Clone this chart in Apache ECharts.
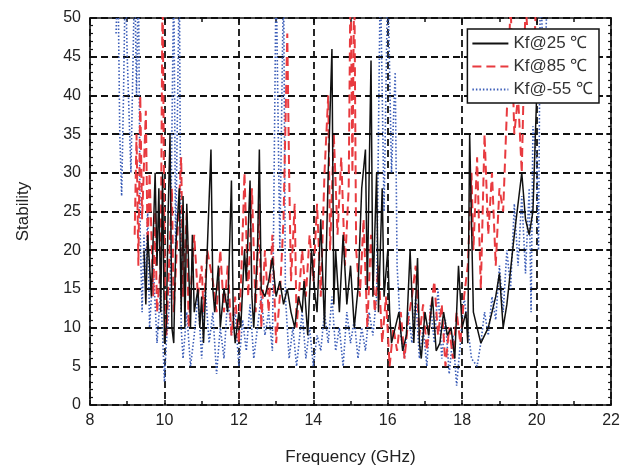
<!DOCTYPE html>
<html><head><meta charset="utf-8">
<script src="https://cdn.jsdelivr.net/npm/echarts@6/dist/echarts.min.js"></script>
<style>html,body{margin:0;padding:0;background:#fff}#c{width:623px;height:471px}</style>
</head><body><div id="c"></div>
<script>
var xTicks = [8, 10, 12, 14, 16, 18, 20, 22];
var yTicks = [0, 5, 10, 15, 20, 25, 30, 35, 40, 45, 50];
var seriesNames = ['Kf@25 \u2103', 'Kf@85 \u2103', 'Kf@-55 \u2103'];

var kf25 = [[9.45,20],[9.5,13],[9.55,22],[9.65,14],[9.75,30],[9.8,18],[9.85,28],[9.9,12],[9.95,30],[10.0,8],[10.05,10],[10.1,25],[10.15,35],[10.2,10],[10.25,8],[10.3,20],[10.4,28],[10.45,12],[10.5,27],[10.55,10],[10.6,26],[10.7,10],[10.75,22],[10.8,12],[10.9,15],[10.95,10],[11.0,14],[11.05,8],[11.15,20],[11.25,33],[11.3,15],[11.35,12],[11.45,18],[11.5,10],[11.6,15],[11.7,12],[11.8,29],[11.85,11],[11.9,8],[12.0,12],[12.05,10],[12.15,20],[12.2,16],[12.3,29],[12.35,14],[12.4,10],[12.5,20],[12.55,33],[12.6,15],[12.7,14],[12.8,16],[12.9,19],[13.0,14],[13.1,16],[13.2,13],[13.3,15],[13.4,12],[13.5,10],[13.6,14],[13.7,12],[13.75,16],[13.85,9],[13.95,20],[14.05,14],[14.1,12],[14.2,24],[14.3,10],[14.4,30],[14.5,46],[14.55,13],[14.6,20],[14.7,12],[14.8,22],[14.9,13],[15.0,18],[15.1,10],[15.2,15],[15.3,28],[15.4,33],[15.45,15],[15.55,44.5],[15.6,14],[15.7,30],[15.75,12],[15.85,28],[15.9,14],[16.0,20],[16.05,12],[16.1,8],[16.2,10],[16.3,12],[16.4,7],[16.5,9],[16.6,20],[16.7,8],[16.8,19],[16.85,8],[16.9,6],[17.0,12],[17.1,9],[17.2,14],[17.3,7],[17.4,8],[17.5,12],[17.6,9],[17.7,10],[17.8,6],[17.9,18],[18.0,10],[18.1,12],[18.15,8],[18.2,35],[18.3,12],[18.5,8],[18.7,10],[18.8,12],[18.9,14],[19.0,17],[19.1,10],[19.2,13],[19.4,22],[19.6,30],[19.7,24],[19.8,22],[19.9,25],[20.0,40],[20.1,42]];

var kf85 = [[9.2,22],[9.25,35],[9.3,18],[9.35,40],[9.4,24],[9.5,38],[9.55,20],[9.6,30],[9.7,14],[9.75,25],[9.8,12],[9.9,18],[9.95,55],[10.0,20],[10.05,9],[10.1,15],[10.2,28],[10.25,12],[10.35,22],[10.45,32],[10.5,14],[10.6,25],[10.65,10],[10.8,22],[10.9,14],[11.0,18],[11.05,12],[11.15,20],[11.3,16],[11.4,12],[11.5,20],[11.6,12],[11.7,18],[11.8,9],[11.9,14],[12.0,8],[12.1,22],[12.15,30],[12.25,14],[12.35,28],[12.45,12],[12.55,26],[12.6,10],[12.7,20],[12.8,12],[12.9,22],[13.0,8],[13.1,14],[13.2,24],[13.3,48],[13.35,30],[13.4,16],[13.5,26],[13.55,10],[13.7,20],[13.8,14],[13.9,22],[14.0,16],[14.1,26],[14.2,14],[14.3,30],[14.4,40],[14.45,20],[14.55,35],[14.65,22],[14.75,32],[14.85,18],[14.95,28],[15.0,56],[15.05,30],[15.1,56],[15.15,20],[15.25,14],[15.35,24],[15.45,10],[15.55,22],[15.65,12],[15.75,18],[15.85,8],[15.95,14],[16.05,5],[16.15,10],[16.25,7],[16.35,12],[16.45,6],[16.55,11],[16.65,14],[16.75,18],[16.85,9],[16.95,13],[17.05,7],[17.15,12],[17.25,16],[17.35,9],[17.45,13],[17.55,5],[17.65,10],[17.75,6],[17.85,12],[17.95,8],[18.05,14],[18.15,18],[18.25,30],[18.3,20],[18.4,32],[18.5,15],[18.6,35],[18.7,22],[18.8,30],[18.9,18],[19.0,28],[19.1,25],[19.2,38],[19.3,52],[19.4,35],[19.5,40],[19.6,30],[19.7,52],[19.8,45],[19.9,40],[20.0,55]];

var kfm55 = [[8.7,48],[8.75,56],[8.8,35],[8.85,27],[8.9,40],[8.95,56],[9.0,45],[9.1,30],[9.2,56],[9.25,40],[9.3,56],[9.35,22],[9.4,12],[9.45,22],[9.5,16],[9.55,25],[9.6,10],[9.7,18],[9.8,8],[9.9,15],[10.0,3],[10.05,8],[10.15,14],[10.25,56],[10.3,20],[10.4,56],[10.45,10],[10.5,6],[10.6,12],[10.7,5],[10.8,9],[10.9,14],[11.0,6],[11.1,15],[11.2,8],[11.3,12],[11.4,4],[11.5,10],[11.6,6],[11.7,14],[11.8,9],[11.9,12],[12.0,5],[12.1,11],[12.2,7],[12.3,13],[12.4,6],[12.5,10],[12.6,14],[12.7,9],[12.8,12],[12.9,7],[13.0,56],[13.1,20],[13.2,56],[13.25,14],[13.35,6],[13.45,10],[13.55,5],[13.7,12],[13.8,6],[13.9,10],[14.0,5],[14.1,9],[14.2,7],[14.3,12],[14.4,8],[14.5,14],[14.6,7],[14.7,10],[14.8,5],[14.9,12],[15.0,8],[15.1,11],[15.2,6],[15.3,10],[15.4,7],[15.5,12],[15.6,9],[15.7,14],[15.8,56],[15.9,25],[16.0,56],[16.1,30],[16.2,43],[16.25,18],[16.35,9],[16.45,6],[16.55,12],[16.65,8],[16.75,14],[16.85,6],[16.95,10],[17.05,5],[17.15,13],[17.25,8],[17.35,15],[17.45,6],[17.55,11],[17.65,4],[17.75,9],[17.85,2.5],[17.95,8],[18.05,14],[18.15,10],[18.25,6],[18.4,5],[18.5,8],[18.6,12],[18.7,9],[18.8,14],[18.9,11],[19.0,18],[19.1,12],[19.2,20],[19.3,15],[19.4,26],[19.5,18],[19.6,27],[19.7,17],[19.8,28],[19.85,12],[19.9,36],[20.0,32],[20.05,20],[20.1,56],[20.2,40],[20.3,56]];

var chart = echarts.init(document.getElementById('c'), null, {renderer: 'canvas'});
var txt = {fontFamily: 'Liberation Sans, Arial, sans-serif', color: '#222'};
var gridLine = {show: true, lineStyle: {color: '#111', type: [7, 4], width: 1.8}};
var axisLine = {show: true, onZero: false, lineStyle: {color: '#111', width: 1.6}};
chart.setOption({
  animation: false,
  backgroundColor: '#fff',
  grid: {left: 90, right: 11, top: 18, bottom: 66, containLabel: false},
  legend: {
    z: 20, zlevel: 0,
    right: 24, top: 29, orient: 'vertical', itemGap: 6, itemWidth: 36, itemHeight: 14,
    borderColor: '#111', borderWidth: 1.5, padding: [6, 6, 5, 4], backgroundColor: '#fff',
    itemStyle: {opacity: 0},
    textStyle: {fontFamily: 'Liberation Sans, Arial, sans-serif', fontSize: 17, color: '#333'},
    data: seriesNames
  },
  xAxis: [{
    type: 'value', min: xTicks[0], max: xTicks[xTicks.length - 1], interval: 2,
    axisLine: axisLine,
    axisTick: {show: true, inside: true, length: 5, lineStyle: {color: '#111', width: 1.5}},
    minorTick: {show: true, splitNumber: 2, length: 4, lineStyle: {color: '#111', width: 1.5}},
    axisLabel: Object.assign({fontSize: 16, margin: 8}, txt),
    splitLine: gridLine,
    name: 'Frequency (GHz)', nameLocation: 'middle', nameGap: 44,
    nameTextStyle: Object.assign({fontSize: 17}, txt)
  }, {
    type: 'value', position: 'top', min: xTicks[0], max: xTicks[xTicks.length - 1], interval: 2,
    axisLine: axisLine,
    axisTick: {show: true, inside: true, length: 5, lineStyle: {color: '#111', width: 1.5}},
    minorTick: {show: true, splitNumber: 2, length: 4, lineStyle: {color: '#111', width: 1.5}},
    axisLabel: {show: false}, splitLine: {show: false}
  }],
  yAxis: [{
    type: 'value', min: yTicks[0], max: yTicks[yTicks.length - 1], interval: 5,
    axisLine: axisLine,
    axisTick: {show: true, inside: true, length: 5, lineStyle: {color: '#111', width: 1.5}},
    minorTick: {show: true, splitNumber: 5, length: 3, lineStyle: {color: '#111', width: 1.2}},
    axisLabel: Object.assign({fontSize: 16, margin: 9}, txt),
    splitLine: gridLine,
    name: 'Stability', nameLocation: 'middle', nameGap: 58, nameRotate: 90,
    nameTextStyle: Object.assign({fontSize: 17}, txt)
  }, {
    type: 'value', position: 'right', min: yTicks[0], max: yTicks[yTicks.length - 1], interval: 5,
    axisLine: axisLine,
    axisTick: {show: true, inside: true, length: 5, lineStyle: {color: '#111', width: 1.5}},
    minorTick: {show: true, splitNumber: 5, length: 3, lineStyle: {color: '#111', width: 1.2}},
    axisLabel: {show: false}, splitLine: {show: false}
  }],
  series: [{
    name: seriesNames[2], type: 'line', data: kfm55, symbol: 'none', clip: true, z: 3,
    lineStyle: {color: '#3b5db8', width: 1.6, type: [1.5, 2]}, itemStyle: {color: '#3b5db8'}
  }, {
    name: seriesNames[1], type: 'line', data: kf85, symbol: 'none', clip: true, z: 4,
    lineStyle: {color: '#e83a3f', width: 2, type: [9, 5]}, itemStyle: {color: '#e83a3f'}
  }, {
    name: seriesNames[0], type: 'line', data: kf25, symbol: 'none', clip: true, z: 5,
    lineStyle: {color: '#111', width: 1.5}, itemStyle: {color: '#111'}
  }]
});
</script></body></html>
